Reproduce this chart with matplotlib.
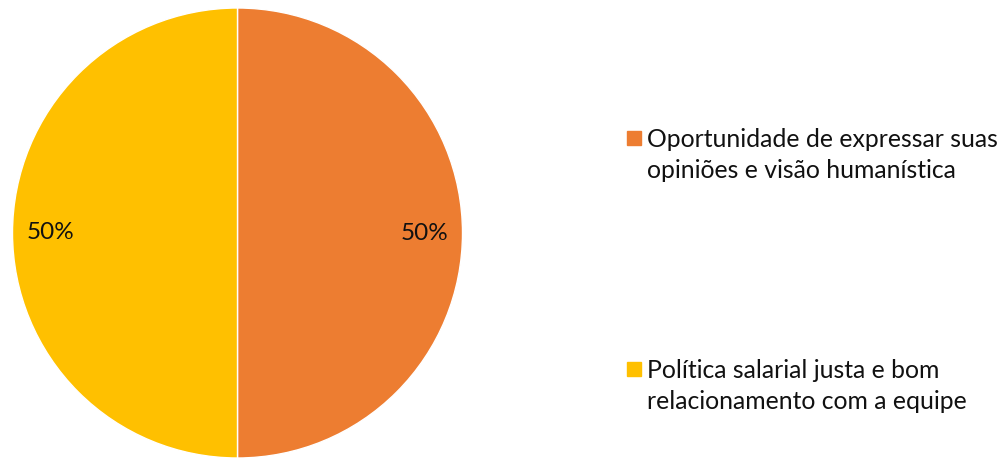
import matplotlib.pyplot as plt
from matplotlib.patches import Rectangle

plt.rcParams['font.family'] = ['Lato', 'DejaVu Sans']

# Data
labels = ["Oportunidade de expressar suas\nopiniões e visão humanística",
          "Política salarial justa e bom\nrelacionamento com a equipe"]
values = [50, 50]
colors = ["#ED7D31", "#FFC000"]

W, H = 1006, 459
fig = plt.figure(figsize=(W / 100, H / 100), dpi=100)

# pie axes: circle spans x 13..462, y 9..458 in pixels
ax = fig.add_axes([12.5 / W, 1 / H, 450 / W, 450 / H])
ax.pie(values, colors=colors, startangle=90, counterclock=False,
       autopct="%.0f%%", pctdistance=0.83,
       wedgeprops=dict(edgecolor="white", linewidth=1),
       textprops=dict(fontsize=17.5, color="#111111"))
ax.set_xlim(-1, 1)
ax.set_ylim(-1, 1)
ax.set_aspect("equal")
ax.axis("off")

# manual legend
legend_y = [155, 386]  # pixel centre between the two lines of each entry
for lab, col, yc in zip(labels, colors, legend_y):
    y_first = yc - 17
    fig.patches.append(Rectangle((627 / W, 1 - (y_first + 7) / H), 14 / W, 14 / H,
                                 transform=fig.transFigure, color=col))
    fig.text(647 / W, 1 - yc / H, lab, fontsize=17.8, color="#111111",
             va="center", ha="left", linespacing=1.4)

fig.savefig("out.png", dpi=100)
